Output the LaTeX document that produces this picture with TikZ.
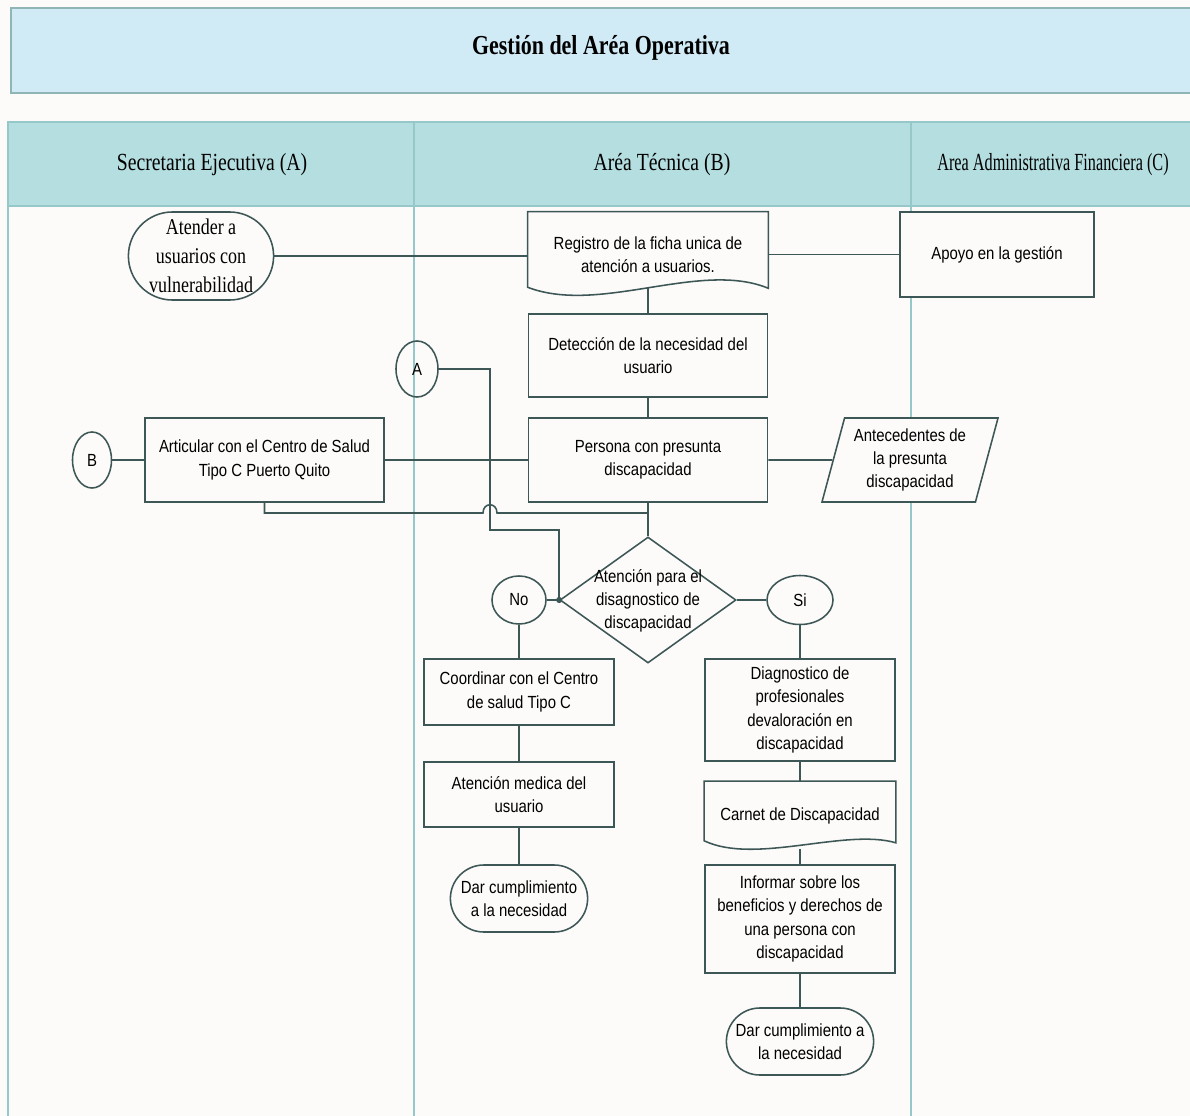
\documentclass[tikz,border=0pt]{standalone}
\usepackage{fontspec}
\setmainfont{Liberation Serif}
\newfontfamily\narrowsf{Liberation Sans}[FakeStretch=0.85]
\newfontfamily\narrowrm{Liberation Serif}[FakeStretch=0.8]
\newfontfamily\tightrm{Liberation Serif}[FakeStretch=0.66]
\usetikzlibrary{shapes.geometric,shapes.misc}
\definecolor{ink}{HTML}{3D5656}
\definecolor{paper}{HTML}{FCFBF9}
\definecolor{titlef}{HTML}{D0EBF5}
\definecolor{titleb}{HTML}{8FB5B5}
\definecolor{laneh}{HTML}{B5DEE0}
\definecolor{laneb}{HTML}{96C8CA}
\tikzset{
  flow/.style={draw=ink, line width=1.1pt, fill=paper, align=center, inner sep=1pt,
    font=\narrowsf\fontsize{12.5}{16.5}\selectfont},
  box/.style={flow, rectangle},
  docbox/.style={flow, rectangle, draw=none, fill=none},
  term/.style={flow, rounded rectangle},
  conn/.style={flow, ellipse, inner sep=0pt},
  link/.style={draw=ink, line width=1.1pt},
  lane/.style={draw=laneb, line width=1.5pt},
  head/.style={font=\narrowrm\fontsize{17.5}{20}\selectfont},
}

\begin{document}
\begin{tikzpicture}[x=0.025cm, y=-0.025cm]
                    \fill[paper] (0,0) rectangle (1190,1116);
                    \useasboundingbox (0,0) rectangle (1190,1116);
                    \draw[fill=titlef, draw=titleb, line width=1.3pt] (11,8) rectangle (1200,93);
                    \node[font=\narrowrm\bfseries\fontsize{19.5}{22}\selectfont] (title) at (601,48) {Gestión del Aréa Operativa};
                    \draw[fill=laneh, draw=laneb, line width=1.3pt] (8,122) rectangle (1200,206);
                    \foreach \x in {8,414,911}
                        \draw[lane] (\x,122) -- (\x,1120);
                    \node[head] (secA) at (212,165) {Secretaria Ejecutiva (A)};
                    \node[head] (areaB) at (662,165) {Aréa Técnica (B)};
                    \node[head, font=\tightrm\fontsize{17.5}{20}\selectfont] (areaC) at (1053,165) {Area Administrativa Financiera (C)};

                    \node[term, minimum width=3.7cm, minimum height=2.2cm, font=\narrowrm\fontsize{16}{20.5}\selectfont] (atender) at (201,256) {Atender a\\usuarios con\\vulnerabilidad};
                    \node[docbox, minimum width=5.975cm, minimum height=2.1cm] (registro) at (648,254.5) {Registro de la ficha unica de\\atención a usuarios.};
                    \draw[link] (registro.north west) -- (registro.north east) -- ([shift={(0,-9)}]registro.south east)
                        .. controls (700,260) and (600,315) .. ([shift={(0,-10)}]registro.south west) -- cycle;
                    \node[box, minimum width=4.85cm, minimum height=2.125cm] (apoyo) at (997,254.5) {Apoyo en la gestión};
                    \node[box, minimum width=5.975cm, minimum height=2.075cm] (detec) at (648,355.5) {Detección de la necesidad del\\usuario};
                    \node[box, minimum width=5.975cm, minimum height=2.1cm] (persona) at (648,460) {Persona con presunta\\discapacidad};
                    \node[flow, trapezium, trapezium left angle=71, trapezium right angle=109, trapezium stretches body,
                        minimum width=4.4cm, minimum height=2.1cm, inner xsep=0pt] (antec) at (910,460) {Antecedentes de\\la presunta\\discapacidad};
                    \node[box, minimum width=5.975cm, minimum height=2.1cm] (articular) at (264.5,460) {Articular con el Centro de Salud\\Tipo C Puerto Quito};
                    \node[conn, minimum width=0.975cm, minimum height=1.4cm] (b) at (92,460) {B};
                    \node[conn, fill=none, minimum width=1.05cm, minimum height=1.4cm] (a) at (417,369) {A};

                    \node[flow, diamond, minimum width=4.4cm, minimum height=3.15cm, inner sep=0pt] (dia) at (648,600) {};
                    \node[align=center, font=\narrowsf\fontsize{12.5}{16.5}\selectfont] (diatxt) at (648,601) {Atención para el\\disagnostico de\\discapacidad};
                    \node[conn, minimum width=1.35cm, minimum height=1.2cm] (no) at (519,600) {No};
                    \node[conn, minimum width=1.65cm, minimum height=1.225cm] (si) at (800,600) {Si};

                    \node[box, minimum width=4.75cm, minimum height=1.65cm] (coord) at (519,692) {Coordinar con el Centro\\de salud Tipo C};
                    \node[box, minimum width=4.75cm, minimum height=1.625cm] (atenc) at (519,794.5) {Atención medica del\\usuario};
                    \node[term, minimum width=3.5cm, minimum height=1.675cm] (dar1) at (519,898.5) {Dar cumplimiento\\a la necesidad};

                    \node[box, minimum width=4.75cm, minimum height=2.55cm] (diag) at (800,710) {Diagnostico de\\profesionales\\devaloración en\\discapacidad};
                    \node[docbox, minimum width=4.75cm, minimum height=1.7cm] (carnet) at (800,816) {Carnet de Discapacidad};
                    \draw[link] (carnet.north west) -- (carnet.north east) -- ([shift={(0,-8)}]carnet.south east)
                        .. controls (845,828) and (755,865) .. ([shift={(0,-10)}]carnet.south west) -- cycle;
                    \node[box, minimum width=4.75cm, minimum height=2.7cm] (informar) at (800,919) {Informar sobre los\\beneficios y derechos de\\una persona con\\discapacidad};
                    \node[term, minimum width=3.75cm, minimum height=1.675cm] (dar2) at (800,1041.5) {Dar cumplimiento a\\la necesidad};

                    \coordinate (hop) at (490,513);
                    \coordinate (bend) at (490,530);
                    \draw[link] (atender.east) -- (atender.east -| registro.west);
                    \draw[link] (registro) -- (apoyo);
                    \draw[link] ([shift={(0,-9)}]registro.south) -- (detec);
                    \draw[link] (detec) -- (persona);
                    \draw[link] (b) -- (articular);
                    \draw[link] (articular) -- (persona);
                    \draw[link] (persona) -- (antec);
                    \draw[link] (persona) -- (dia);
                    \draw[link] (persona.south |- hop) -- ([shift={(7,0)}]hop)
                        .. controls ([shift={(7,-11)}]hop) and ([shift={(-7,-11)}]hop) .. ([shift={(-7,0)}]hop) -| (articular.south);
                    \draw[link] (a.east) -| (bend) -| (dia.west);
                    \fill[ink] (dia.west) circle (2.2pt);
                    \draw[link] (no) -- (dia);
                    \draw[link] (dia) -- (si);
                    \draw[link] (no) -- (coord);
                    \draw[link] (coord) -- (atenc);
                    \draw[link] (atenc) -- (dar1);
                    \draw[link] (si) -- (diag);
                    \draw[link] (diag) -- (carnet);
                    \draw[link] ([shift={(0,-2)}]carnet.south) -- (informar);
                    \draw[link] (informar) -- (dar2);
                \end{tikzpicture}
\end{document}
